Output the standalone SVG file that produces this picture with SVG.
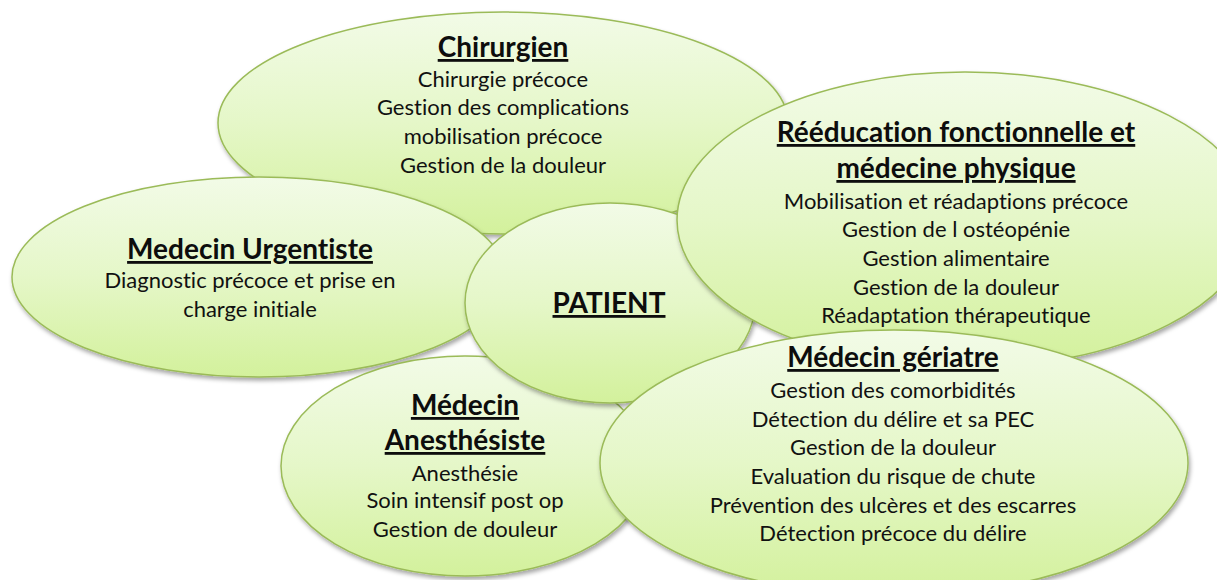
<svg xmlns="http://www.w3.org/2000/svg" width="1217" height="580" viewBox="0 0 1217 580">
<defs>
<linearGradient id="g" x1="0" y1="0" x2="0" y2="1">
<stop offset="0" stop-color="#f2fbe7"/>
<stop offset="0.5" stop-color="#e5f7c8"/>
<stop offset="1" stop-color="#d3f19c"/>
</linearGradient>
<filter id="sh" x="-10%" y="-10%" width="120%" height="130%">
<feDropShadow dx="1.5" dy="3" stdDeviation="2" flood-color="#000" flood-opacity="0.35"/>
</filter>
</defs>
<style>
.e{fill:url(#g);stroke:#9bbb59;stroke-width:1.5;filter:url(#sh)}
text{font-variant-ligatures:none}
.t{font-family:Lato,"Liberation Sans",sans-serif;font-weight:700;font-size:28px;text-decoration:underline;text-anchor:middle;fill:#0d0d0d}
.b{font-family:Lato,"Liberation Sans",sans-serif;font-size:22px;text-anchor:middle;fill:#111}
</style>
<rect width="1217" height="580" fill="#fff"/>
<g id="chirurgien">
<ellipse class="e" cx="503" cy="123" rx="285" ry="111"/>
<text class="t" x="503" y="57">Chirurgien</text>
<text class="b" x="503" y="87">Chirurgie précoce</text>
<text class="b" x="503" y="115">Gestion des complications</text>
<text class="b" x="503" y="144">mobilisation précoce</text>
<text class="b" x="503" y="173">Gestion de la douleur</text>
</g>
<g id="urgentiste">
<ellipse class="e" cx="259" cy="277" rx="247" ry="100"/>
<text class="t" x="250" y="259">Medecin Urgentiste</text>
<text class="b" x="250" y="288">Diagnostic précoce et prise en</text>
<text class="b" x="250" y="317">charge initiale</text>
</g>
<g id="anesthesiste">
<ellipse class="e" cx="465" cy="466" rx="184" ry="110"/>
<text class="t" x="465" y="415">Médecin</text>
<text class="t" x="465" y="450">Anesthésiste</text>
<text class="b" x="465" y="481">Anesthésie</text>
<text class="b" x="465" y="508">Soin intensif post op</text>
<text class="b" x="465" y="537">Gestion de douleur</text>
</g>
<g id="patient">
<ellipse class="e" cx="610" cy="303" rx="145" ry="100"/>
<text class="t" x="609" y="313">PATIENT</text>
</g>
<g id="reeducation">
<ellipse class="e" cx="965" cy="220" rx="288" ry="148"/>
<text class="t" x="956" y="142">Rééducation fonctionnelle et</text>
<text class="t" x="956" y="178">médecine physique</text>
<text class="b" x="956" y="209">Mobilisation et réadaptions précoce</text>
<text class="b" x="956" y="237">Gestion de l ostéopénie</text>
<text class="b" x="956" y="266">Gestion alimentaire</text>
<text class="b" x="956" y="295">Gestion de la douleur</text>
<text class="b" x="956" y="323">Réadaptation thérapeutique</text>
</g>
<g id="geriatre">
<ellipse class="e" cx="894" cy="463" rx="294" ry="133"/>
<text class="t" x="893" y="367">Médecin gériatre</text>
<text class="b" x="893" y="398">Gestion des comorbidités</text>
<text class="b" x="893" y="427">Détection du délire et sa PEC</text>
<text class="b" x="893" y="455">Gestion de la douleur</text>
<text class="b" x="893" y="484">Evaluation du risque de chute</text>
<text class="b" x="893" y="513">Prévention des ulcères et des escarres</text>
<text class="b" x="893" y="541">Détection précoce du délire</text>
</g>
<g id="connectors"/>
</svg>
